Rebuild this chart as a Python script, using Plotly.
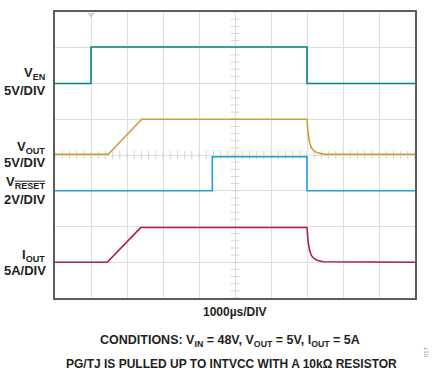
import plotly.graph_objects as go

# Time base: 1000 µs per division, 10 divisions across
T_MIN, T_MAX, T_DIV = 0, 10000, 1000
N_YDIV = 8

# Channel waveforms (time in µs, value in V or A)
t_en = [0, 1000, 1000, 7000, 7000, 10000]
v_en = [0.0, 0.0, 5.1, 5.1, 0.0, 0.0]

t_out = [0, 1480, 2410, 7000, 7030, 7070, 7120, 7200, 7300, 7450, 10000]
v_out = [0.1, 0.1, 5.0, 5.0, 3.0, 1.8, 1.0, 0.55, 0.3, 0.12, 0.1]

t_rst = [0, 4370, 4370, 7000, 7000, 10000]
v_rst = [0.0, 0.0, 1.9, 1.9, 0.0, 0.0]

t_iout = [0, 1450, 2380, 7000, 7030, 7070, 7120, 7200, 7300, 7450, 10000]
i_out = [0.0, 0.0, 4.85, 4.85, 2.9, 1.7, 0.95, 0.5, 0.25, 0.08, 0.0]

# Channel settings: name, axis, units per division, ground position (divisions from bottom), colour
channels = [
    ("V<sub>EN</sub>", "y", 5, 6, "#00877d", t_en, v_en, "5V/DIV"),
    ("V<sub>OUT</sub>", "y2", 5, 4, "#c9a032", t_out, v_out, "5V/DIV"),
    ("V<sub><span style='text-decoration:overline'>RESET</span></sub>", "y3", 2, 3, "#1fa0da", t_rst, v_rst, "2V/DIV"),
    ("I<sub>OUT</sub>", "y4", 5, 1, "#b2174f", t_iout, i_out, "5A/DIV"),
]

W, H = 434, 374
ML, MR, MT, MB = 55, 19, 10, 76
PW, PH = W - ML - MR, H - MT - MB

FONT = "Liberation Sans, Arial, sans-serif"
TXT = "#231f20"
GRID = "#dedede"
FRAME = "#5c5c5c"

fig = go.Figure()

# Minor ticks along the centre graticule lines (5 per division), on the VEN axis scale
en_scale, en_gnd = 5, 6
y_lo = -en_gnd * en_scale
y_hi = (N_YDIV - en_gnd) * en_scale
y_mid = y_lo + (y_hi - y_lo) / 2
step_y = en_scale / 5
step_x = T_DIV / 5
vt_y = [y_lo + k * step_y for k in range(int((y_hi - y_lo) / step_y) + 1)]
ht_x = [T_MIN + k * step_x for k in range(int((T_MAX - T_MIN) / step_x) + 1)]
fig.add_trace(go.Scatter(
    x=[(T_MIN + T_MAX) / 2] * len(vt_y), y=vt_y, mode="markers", yaxis="y",
    marker=dict(symbol="line-ew", size=6, line=dict(color="#d4d4d4", width=1)),
    hoverinfo="skip", showlegend=False))
fig.add_trace(go.Scatter(
    x=ht_x, y=[y_mid] * len(ht_x), mode="markers", yaxis="y",
    marker=dict(symbol="line-ns", size=6, line=dict(color="#d4d4d4", width=1)),
    hoverinfo="skip", showlegend=False))

# Trigger marker at the top edge
fig.add_trace(go.Scatter(
    x=[t_en[1]], y=[y_hi - 0.35], mode="markers", yaxis="y", cliponaxis=False,
    marker=dict(symbol="triangle-down", size=7, color="#d2d2d2"),
    hoverinfo="skip", showlegend=False))

layout_axes = {}
for idx, (name, ax, scale, gnd, color, tt, vv, div) in enumerate(channels):
    lo = -gnd * scale
    hi = (N_YDIV - gnd) * scale
    key = "yaxis" if ax == "y" else "yaxis" + ax[1:]
    if ax == "y":
        layout_axes[key] = dict(range=[lo, hi], dtick=scale, tick0=0, showgrid=True,
                                gridcolor=GRID, gridwidth=1, zeroline=False,
                                showticklabels=False, ticks="", showline=True,
                                mirror=True, linecolor=FRAME, linewidth=2, fixedrange=True)
    else:
        layout_axes[key] = dict(range=[lo, hi], overlaying="y", visible=False,
                                showgrid=False, zeroline=False, fixedrange=True)
    # waveform
    fig.add_trace(go.Scatter(x=tt, y=vv, mode="lines", yaxis=ax,
                             line=dict(color=color, width=1.6),
                             hoverinfo="skip", showlegend=False))
    # ground reference marker just outside the left edge
    fig.add_trace(go.Scatter(x=[-110], y=[0], mode="markers", yaxis=ax, cliponaxis=False,
                             marker=dict(symbol="line-ew", size=7, line=dict(color=color, width=1.5)),
                             hoverinfo="skip", showlegend=False))

annotations = []

def pann(text, px, py, xanchor="center", size=12, **kw):
    annotations.append(dict(
        text=text, x=(px - ML) / PW, y=(MT + PH - py) / PH, xref="paper", yref="paper",
        xanchor=xanchor, yanchor="middle", showarrow=False,
        font=dict(family=FONT, size=size, color=TXT), **kw))

label_y = [(72, 89), (146, 162), (182, 199), (255, 270)]
for (name, ax, scale, gnd, color, tt, vv, div), (y1, y2) in zip(channels, label_y):
    pann("<b>" + name + "</b>", 47, y1, xanchor="right", size=13)
    pann("<b>" + div + "</b>", 48, y2, xanchor="right", size=13)

pann("<b>1000µs/DIV</b>", 235, 312)
pann("<b>CONDITIONS: V<sub>IN</sub> = 48V, V<sub>OUT</sub> = 5V, I<sub>OUT</sub> = 5A</b>", 230, 341, size=12.5)
pann("<b>PG/TJ IS PULLED UP TO INTVCC WITH A 10kΩ RESISTOR</b>", 231, 364, size=12)
annotations.append(dict(text="017", x=(431 - ML) / PW, y=(MT + PH - 360) / PH,
                        xref="paper", yref="paper", showarrow=False, textangle=-90,
                        font=dict(family=FONT, size=6, color="#888888")))

fig.update_layout(
    width=W, height=H,
    margin=dict(l=ML, r=MR, t=MT, b=MB, pad=0),
    paper_bgcolor="white", plot_bgcolor="white",
    xaxis=dict(range=[T_MIN, T_MAX], dtick=T_DIV, tick0=0, showgrid=True, gridcolor=GRID,
               gridwidth=1, zeroline=False, showticklabels=False, ticks="",
               showline=True, mirror=True, linecolor=FRAME, linewidth=2, fixedrange=True),
    annotations=annotations,
    **layout_axes,
)

fig.write_html("out.html", config={"displayModeBar": False})
